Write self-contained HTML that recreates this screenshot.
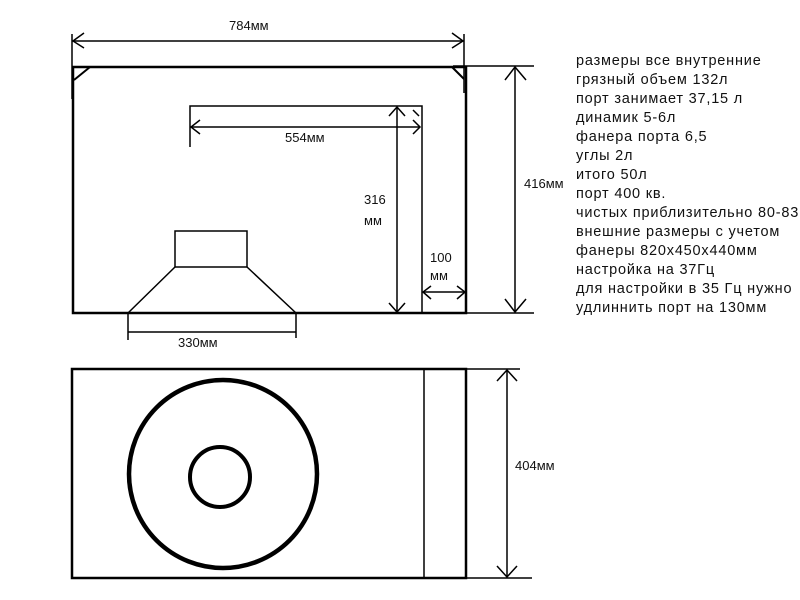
<!DOCTYPE html>
<html><head><meta charset="utf-8"><style>
html,body{margin:0;padding:0;background:#fff;width:800px;height:600px;overflow:hidden}
svg{display:block}
text{font-family:"Liberation Sans","DejaVu Sans",sans-serif;font-size:13px;fill:#111}
.n text{font-size:14.5px;letter-spacing:0.8px}
</style></head><body>
<svg width="800" height="600" viewBox="0 0 800 600" fill="none" stroke="#000">
<g stroke-width="1.5">
<line x1="72" y1="34" x2="72" y2="99"/>
<line x1="464" y1="34" x2="464" y2="93"/>
<line x1="72" y1="41" x2="464" y2="41"/>
<polyline points="84,33 73,41 84,48"/>
<polyline points="452,33 463,41 452,48"/>
</g>
<text x="229" y="30" stroke="none">784мм</text>
<rect x="73" y="67" width="393" height="246" stroke-width="2.5"/>
<line x1="74" y1="80" x2="90" y2="67" stroke-width="2"/>
<line x1="452" y1="67" x2="464" y2="79" stroke-width="2"/>
<g stroke-width="1.5">
<polyline points="190,147 190,106 422,106 422,313"/>
<line x1="190" y1="127" x2="420" y2="127"/>
<polyline points="200,120 191,127 200,134"/>
<polyline points="413,120 420,127 413,134"/>
<line x1="397" y1="108" x2="397" y2="312"/>
<polyline points="389,116 397,107 405,116"/>
<polyline points="389,303 397,312 405,303"/>
<line x1="423" y1="292" x2="465" y2="292"/>
<polyline points="431,286 423,292 431,299"/>
<polyline points="457,286 465,292 457,299"/>
<line x1="413" y1="110" x2="419" y2="116" />
</g>
<text x="285" y="142" stroke="none">554мм</text>
<text x="364" y="204" stroke="none">316</text>
<text x="364" y="225" stroke="none" font-size="12">мм</text>
<text x="430" y="262" stroke="none">100</text>
<text x="430" y="280" stroke="none" font-size="12">мм</text>
<g stroke-width="1.5">
<line x1="453" y1="66" x2="534" y2="66"/>
<line x1="433" y1="313" x2="534" y2="313"/>
<line x1="515" y1="67" x2="515" y2="312"/>
<polyline points="505,80 515,67 526,80"/>
<polyline points="505,299 515,312 526,299"/>
</g>
<text x="524" y="188" stroke="none">416мм</text>
<g stroke-width="1.5">
<rect x="175" y="231" width="72" height="36"/>
<line x1="175" y1="267" x2="128" y2="313"/>
<line x1="247" y1="267" x2="296" y2="313"/>
<line x1="128" y1="313" x2="128" y2="340"/>
<line x1="296" y1="313" x2="296" y2="338"/>
<line x1="128" y1="332" x2="296" y2="332"/>
</g>
<text x="178" y="347" stroke="none">330мм</text>
<rect x="72" y="369" width="394" height="209" stroke-width="2.5"/>
<line x1="424" y1="370" x2="424" y2="577" stroke-width="1.5"/>
<circle cx="223" cy="474" r="94" stroke-width="4.5"/>
<circle cx="220" cy="477" r="30" stroke-width="4"/>
<g stroke-width="1.5">
<line x1="466" y1="369" x2="520" y2="369"/>
<line x1="466" y1="578" x2="532" y2="578"/>
<line x1="507" y1="370" x2="507" y2="577"/>
<polyline points="497,381 507,370 517,381"/>
<polyline points="497,566 507,577 517,566"/>
</g>
<text x="515" y="470" stroke="none">404мм</text>
<g stroke="none" class="n">
<text x="576" y="65">размеры все внутренние</text>
<text x="576" y="84">грязный объем 132л</text>
<text x="576" y="103">порт занимает 37,15 л</text>
<text x="576" y="122">динамик 5-6л</text>
<text x="576" y="141">фанера порта 6,5</text>
<text x="576" y="160">углы 2л</text>
<text x="576" y="179">итого 50л</text>
<text x="576" y="198">порт 400 кв.</text>
<text x="576" y="217">чистых приблизительно 80-83</text>
<text x="576" y="236">внешние размеры с учетом</text>
<text x="576" y="255">фанеры 820х450х440мм</text>
<text x="576" y="274">настройка на 37Гц</text>
<text x="576" y="293">для настройки в 35 Гц нужно</text>
<text x="576" y="312">удлиннить порт на 130мм</text>
</g>
</svg>
</body></html>
